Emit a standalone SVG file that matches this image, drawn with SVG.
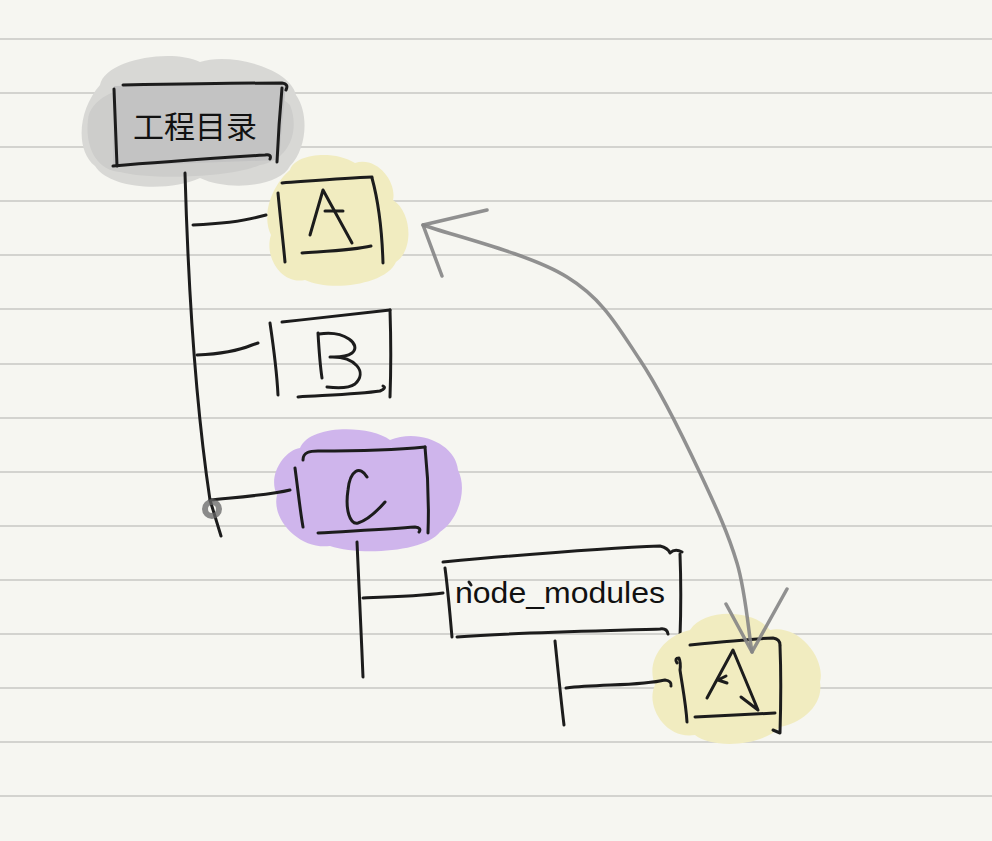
<svg xmlns="http://www.w3.org/2000/svg" width="992" height="841" viewBox="0 0 992 841">
<style>
.ink{fill:none;stroke:#1c1c1c;stroke-width:3;stroke-linecap:round;stroke-linejoin:round}
.rule{stroke:#d3d3cf;stroke-width:2}
.pencil{fill:none;stroke:#858585;stroke-width:3.5;stroke-linecap:round;stroke-linejoin:round;opacity:0.9}
.lbl{font-family:"Liberation Sans",Arial,sans-serif;fill:#111}
.cjk{font-family:"Noto Sans CJK SC","Noto Sans CJK JP",sans-serif;fill:#111}
</style>
<rect width="992" height="841" fill="#f6f6f1"/>
<g id="ruled-paper">
<line class="rule" x1="0" y1="39" x2="992" y2="39"/>
<line class="rule" x1="0" y1="93" x2="992" y2="93"/>
<line class="rule" x1="0" y1="147" x2="992" y2="147"/>
<line class="rule" x1="0" y1="201" x2="992" y2="201"/>
<line class="rule" x1="0" y1="255" x2="992" y2="255"/>
<line class="rule" x1="0" y1="309" x2="992" y2="309"/>
<line class="rule" x1="0" y1="364" x2="992" y2="364"/>
<line class="rule" x1="0" y1="418" x2="992" y2="418"/>
<line class="rule" x1="0" y1="472" x2="992" y2="472"/>
<line class="rule" x1="0" y1="526" x2="992" y2="526"/>
<line class="rule" x1="0" y1="580" x2="992" y2="580"/>
<line class="rule" x1="0" y1="634" x2="992" y2="634"/>
<line class="rule" x1="0" y1="688" x2="992" y2="688"/>
<line class="rule" x1="0" y1="742" x2="992" y2="742"/>
<line class="rule" x1="0" y1="796" x2="992" y2="796"/>
</g>

<g id="node-root">
<path d="M100,85 C105,60 170,48 200,62 C230,52 290,68 296,95 C310,115 306,150 290,166 C280,186 230,192 200,178 C170,192 110,190 95,166 C75,150 78,110 100,85 Z" fill="#d8d8d5"/>
<path d="M88,120 C90,95 130,80 170,88 C210,75 270,85 290,105 C300,130 290,160 260,165 C230,178 150,180 120,172 C95,170 85,145 88,120 Z" fill="#cdcdcb"/>
<path d="M114,86 L286,83 L279,160 L113,166 Z" fill="#c3c3c3"/>
<path class="ink" d="M123,85 C180,84 240,83 282,83 Q289,84 286,90"/>
<path class="ink" d="M114,89 C115,115 116,140 117,166"/>
<path class="ink" d="M282,88 C280,110 278,140 277,162"/>
<path class="ink" d="M113,166 C160,162 220,158 265,155 Q272,154 270,159"/>
<text class="cjk" x="195" y="138" font-size="31" text-anchor="middle">工程目录</text>
</g>

<g id="node-A-top">
<path d="M290,170 C295,153 335,150 355,163 C378,156 397,183 393,200 C412,212 414,250 396,262 C386,285 330,292 305,280 C280,285 264,255 271,235 C261,215 272,185 290,170 Z" fill="#f1ecc0"/>
<path class="ink" d="M282,183 C310,181 345,178 372,177"/>
<path class="ink" d="M278,193 C280,215 283,240 285,262"/>
<path class="ink" d="M372,178 C378,200 382,230 383,263"/>
<path class="ink" d="M302,253 C330,251 355,250 371,246"/>
<path class="ink" d="M310,235 L323,190 L352,243"/>
<path class="ink" d="M325,211 L343,211"/>
</g>

<g id="node-B">
<path class="ink" d="M282,322 C320,318 360,313 390,310"/>
<path class="ink" d="M270,323 C274,350 277,375 278,395"/>
<path class="ink" d="M390,310 C391,340 391,370 390,397"/>
<path class="ink" d="M298,397 C330,395 360,394 380,391 Q387,388 383,386"/>
<path class="ink" d="M318,333 C319,350 320,365 322,378"/>
<path class="ink" d="M319,334 C345,330 362,345 352,353 C345,358 335,357 330,357 C355,356 368,372 355,384 C348,389 335,388 327,387"/>
</g>

<g id="node-C">
<path d="M300,448 C310,424 370,425 390,440 C420,428 456,445 458,470 C468,490 458,520 440,532 C425,552 360,556 330,546 C300,550 271,520 277,495 C267,475 285,450 300,448 Z" fill="#cfb5ec"/>
<path class="ink" d="M303,460 C303,452 310,451 318,451 C355,451 395,450 425,447"/>
<path class="ink" d="M295,468 C298,490 300,510 303,527"/>
<path class="ink" d="M425,447 C428,475 429,505 428,533"/>
<path class="ink" d="M318,533 C350,531 390,529 415,527 Q422,528 419,532"/>
<path class="ink" d="M367,477 C360,465 350,470 348,490 C345,510 350,525 358,523 C368,520 378,510 385,502"/>
</g>

<g id="node-node-modules">
<path class="ink" d="M443,562 C520,555 600,548 660,546 Q668,548 670,553 Q675,548 682,552"/>
<path class="ink" d="M445,568 C448,590 450,615 452,637"/>
<path class="ink" d="M680,554 C681,580 681,610 680,638"/>
<path class="ink" d="M457,637 C520,632 600,631 660,629 Q667,628 668,634"/>
<text class="lbl" x="455" y="603" font-size="29" textLength="210" lengthAdjust="spacingAndGlyphs">node_modules</text>
<path class="ink" d="M469,582 L471,585" stroke-width="2"/>
</g>

<g id="node-A-bottom">
<path d="M690,630 C705,607 755,610 770,630 C800,624 826,660 820,682 C824,706 800,724 780,727 C760,748 710,748 695,735 C665,740 645,705 655,685 C645,660 665,635 690,630 Z" fill="#f1ecc0"/>
<path class="ink" d="M690,645 C720,642 750,639 773,638 Q780,639 780,645"/>
<path class="ink" d="M677,663 Q674,658 679,658 Q681,663 680,670 C683,690 686,705 687,722"/>
<path class="ink" d="M780,646 C781,670 781,700 780,733 L773,730"/>
<path class="ink" d="M695,717 C720,716 750,714 775,713"/>
<path class="ink" d="M707,698 L733,650 L758,710 L741,697"/>
<path class="ink" d="M726,676 L718,680 L727,683"/>
</g>

<g id="connectors">
<path class="ink" d="M185,173 C188,280 195,400 210,500 L221,536"/>
<path class="ink" d="M193,225 C215,224 240,222 258,217 L266,215"/>
<path class="ink" d="M197,355 C220,354 240,350 252,345 L258,343"/>
<path class="ink" d="M210,500 C240,497 270,495 290,490"/>
<circle cx="212" cy="509" r="7" fill="none" stroke="#666" stroke-width="6" opacity="0.75"/>
<path class="ink" d="M357,542 C359,580 361,630 363,677"/>
<path class="ink" d="M363,598 C390,597 420,596 443,593"/>
<path class="ink" d="M555,641 C558,670 561,700 564,725"/>
<path class="ink" d="M566,688 C600,684 640,686 665,680 Q672,681 671,686"/>
<path class="pencil" d="M423,225 C447,234 531,254 567,277 C603,299 618,327 640,360 C662,393 684,439 700,473 C716,507 728,533 737,563 C746,593 749,637 752,652"/>
<path class="pencil" d="M487,210 L423,225 L442,276"/>
<path class="pencil" d="M726,604 L752,652 L787,589"/>
</g>
</svg>
